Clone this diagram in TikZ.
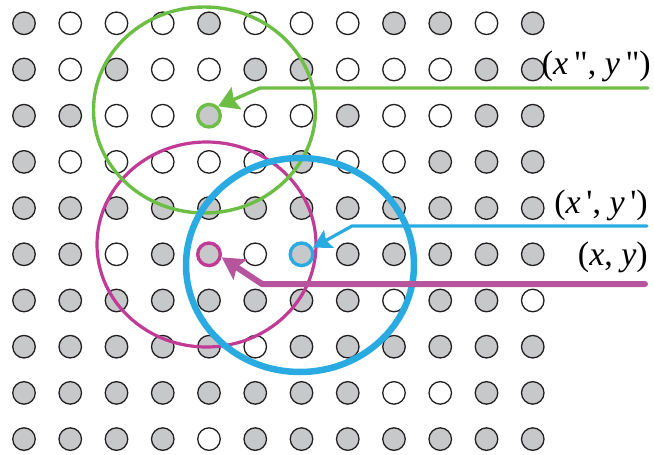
\documentclass[tikz,border=0pt]{standalone}
\usepackage{fontspec}
\newfontfamily\lblfont{Liberation Serif}
\usetikzlibrary{arrows.meta}

\definecolor{dotgray}{RGB}{199,200,202}
\definecolor{dotline}{RGB}{35,31,32}
\definecolor{ptgreen}{RGB}{108,190,69}
\definecolor{ptblue}{RGB}{41,171,226}
\definecolor{ptmag}{RGB}{192,58,150}
\definecolor{ptmagarrow}{RGB}{182,84,158}
\colorlet{dot0}{white}
\colorlet{dot1}{dotgray}
\newcommand{\dq}{\symbol{"22}}
\newcommand{\sq}{\symbol{"27}}

\begin{document}
\begin{tikzpicture}[x=1pt,y=-1pt,
  dot/.style={circle,draw=dotline,line width=1.3pt,minimum size=22.5pt,inner sep=0pt,outer sep=0pt},
  lbl/.style={font=\lblfont\fontsize{34}{40}\selectfont,inner sep=0pt,anchor=base east}]
  \useasboundingbox (0,0) rectangle (654,455);

  % the grid of samples, 1 = filled
  \foreach \pat [count=\r] in {
      {1,0,0,0,1,0,0,0,1,1,0,1},
      {1,0,1,0,0,1,1,0,0,0,1,1},
      {1,1,0,0,1,0,0,1,0,0,1,1},
      {1,0,0,0,0,0,1,0,0,1,1,1},
      {1,1,1,1,1,1,1,1,1,1,1,1},
      {1,1,0,1,1,0,1,1,1,1,1,1},
      {1,1,1,1,1,1,1,1,0,1,1,0},
      {1,1,1,1,1,0,1,1,1,1,1,1},
      {1,1,1,1,1,1,1,1,0,0,1,1},
      {1,1,1,1,0,1,1,1,1,1,1,1}}{
    \foreach \f [count=\c] in \pat
      \node[dot,fill=dot\f] (d\r-\c) at ({24+46.25*(\c-1)},{23.3+46.2*(\r-1)}) {};
  }

  % neighbourhoods
  \draw[ptmag,line width=3.2pt] (206.5,244.5) ellipse (109.5pt and 102.5pt);
  \draw[ptgreen,line width=3.4pt] (204.5,110) ellipse (111pt and 103pt);
  \draw[ptblue,line width=6.5pt] (300,265) ellipse (114pt and 107pt);

  % the three marked samples
  \draw[ptgreen,line width=3.4pt] (d3-5) circle (11.3pt);
  \draw[ptmag,line width=3.4pt] (d6-5) circle (11.3pt);
  \draw[ptblue,line width=3.4pt] (d6-7) circle (11.3pt);

  % labels
  \node[lbl] (lxy2) at (651,74) {(\textit{x}\,\dq, \textit{y}\,\dq)};
  \node[lbl] (lxy1) at (648,213) {(\textit{x}\,\sq, \textit{y}\,\sq)};
  \node[lbl] (lxy0) at (648,265) {(\textit{x}, \textit{y})};

  % leaders
  \coordinate (gend) at (648,88);
  \coordinate (bend) at (647,226);
  \coordinate (mend) at (645,284);
  \draw[ptgreen,line width=3.4pt,line cap=round,shorten >=2pt,
        -{Stealth[length=20pt,width=24pt,inset=3pt]}] (gend) -- (260,88) -- (d3-5.50);
  \draw[ptblue,line width=3.2pt,line cap=round,shorten >=2pt,
        -{Stealth[length=18pt,width=20pt,inset=3pt]}] (bend) -- (352,226) -- (d6-7.30);
  \draw[ptmagarrow,line width=6pt,line cap=round,shorten >=2pt,
        -{Stealth[length=22pt,width=24pt,inset=4pt]}] (mend) -- (262,284) -- (d6-5.-10);
\end{tikzpicture}
\end{document}
